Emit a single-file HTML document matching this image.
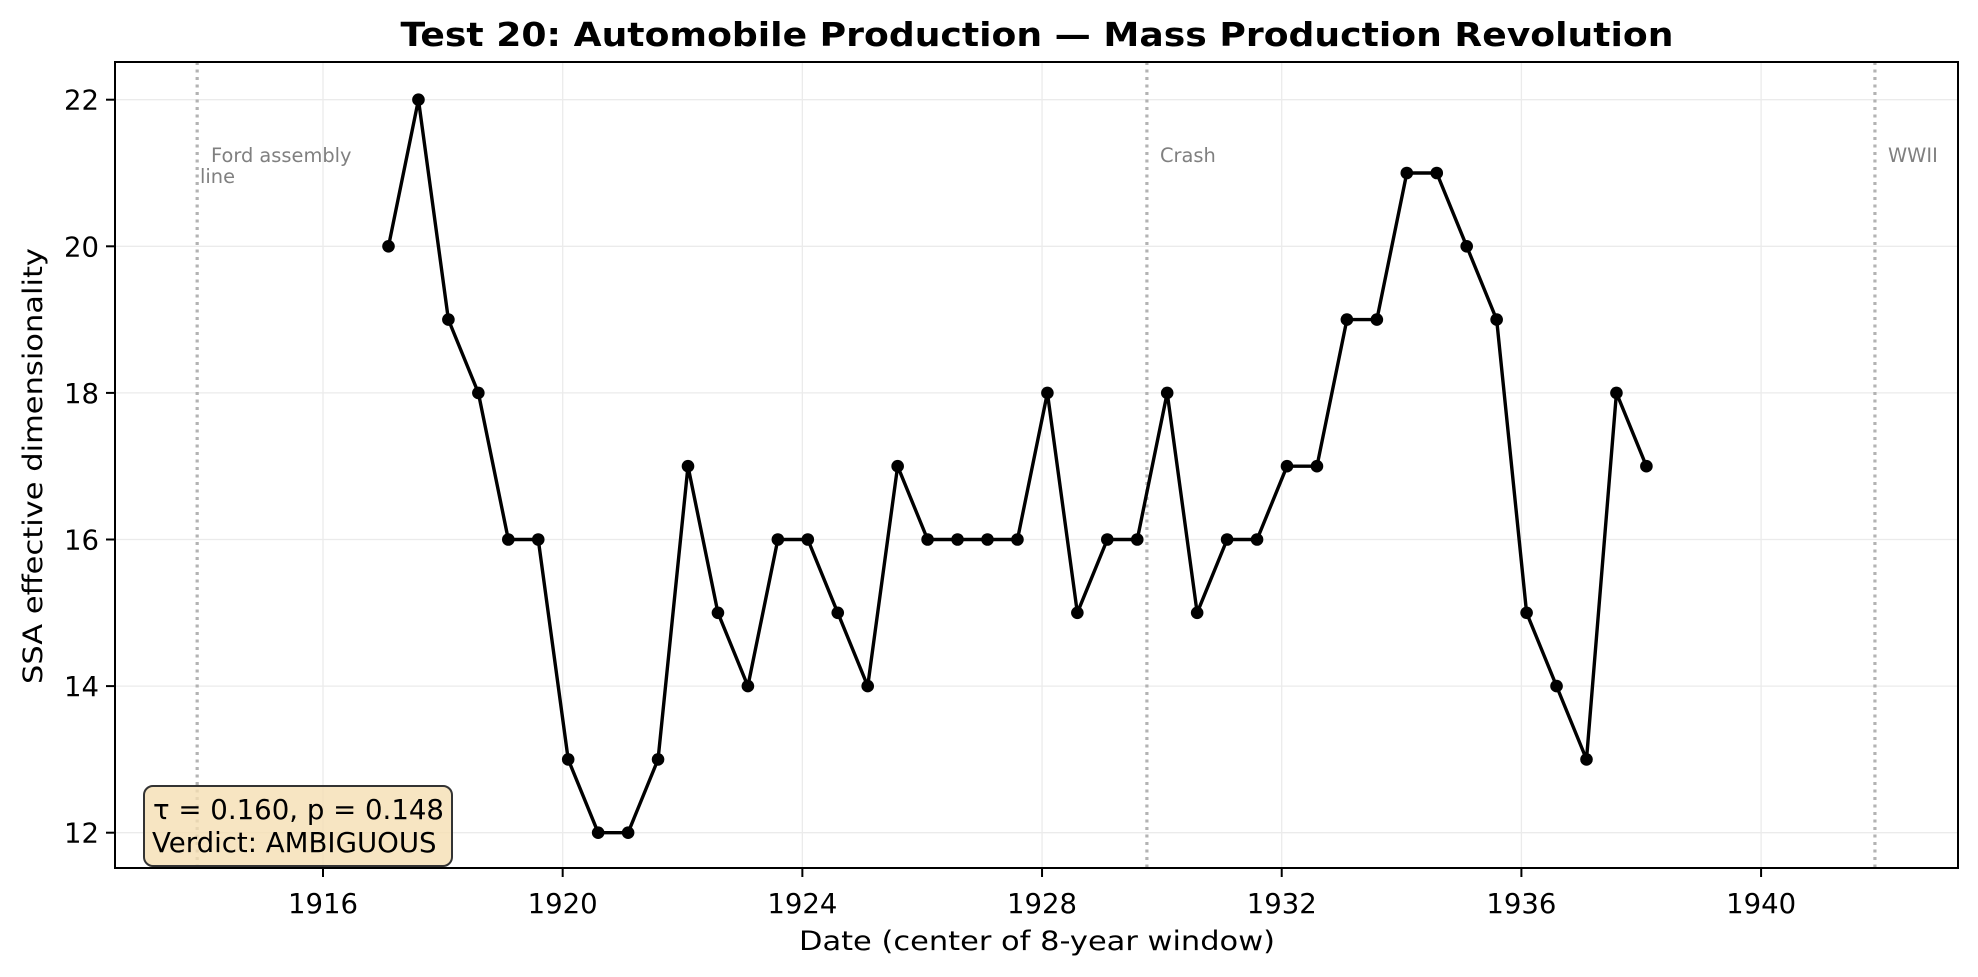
<!DOCTYPE html>
<html><head><meta charset="utf-8"><style>
html,body{margin:0;padding:0;background:#fff}
svg{display:block;font-family:"DejaVu Sans","Liberation Sans",sans-serif}
</style></head><body>
<svg id="c" width="1978" height="977" viewBox="0 0 1978 977" xmlns="http://www.w3.org/2000/svg">
<rect width="1978" height="977" fill="#fff"/>
<g id="grid" stroke="#ebebeb" stroke-width="1.3"></g>
<g id="vl" stroke="#b3b3b3" stroke-width="3.2" stroke-dasharray="3,4.5"></g>
<g fill="#808080" font-size="19.4">
<text x="211" y="162">Ford assembly</text>
<text x="200" y="183">line</text>
<text x="1160" y="162">Crash</text>
<text x="1888" y="162">WWII</text>
</g>
<polyline id="ln" fill="none" stroke="#000" stroke-width="3.4" stroke-linejoin="round"/>
<g id="pts" fill="#000"></g>
<rect x="115" y="62" width="1843" height="806" fill="none" stroke="#000" stroke-width="2"/>
<g id="ticks" stroke="#000" stroke-width="2"></g>
<g id="tl" font-size="27.5" fill="#000"></g>
<text x="1037" y="46" font-size="33" font-weight="bold" text-anchor="middle" textLength="1273" lengthAdjust="spacingAndGlyphs">Test 20: Automobile Production — Mass Production Revolution</text>
<text x="1037" y="950" font-size="27" text-anchor="middle" textLength="476" lengthAdjust="spacingAndGlyphs">Date (center of 8-year window)</text>
<text transform="translate(42,466) rotate(-90)" font-size="27" text-anchor="middle" textLength="436" lengthAdjust="spacingAndGlyphs">SSA effective dimensionality</text>
<rect x="144" y="786" width="308" height="80" rx="9" fill="#f5deb3" fill-opacity="0.8" stroke="#333" stroke-width="2"/>
<text x="153" y="819" font-size="27.6">τ = 0.160, p = 0.148</text>
<text x="152" y="852" font-size="27.6">Verdict: AMBIGUOUS</text>
</svg>
<script>
const NS="http://www.w3.org/2000/svg";
const X=y=>323+(y-1916)*59.92, Y=v=>99.7+(22-v)*73.3;
function el(p,t,a,txt){const e=document.createElementNS(NS,t);for(const k in a)e.setAttribute(k,a[k]);if(txt!=null)e.textContent=txt;document.getElementById(p).appendChild(e);return e;}
for(let yr=1916;yr<=1940;yr+=4){const x=X(yr);el("grid","line",{x1:x,x2:x,y1:62,y2:868});el("ticks","line",{x1:x,x2:x,y1:868,y2:877});el("tl","text",{x:x,y:913,"text-anchor":"middle"},yr);}
for(let v=12;v<=22;v+=2){const y=Y(v);el("grid","line",{x1:115,x2:1958,y1:y,y2:y});el("ticks","line",{x1:106,x2:115,y1:y,y2:y});el("tl","text",{x:99,y:y+10,"text-anchor":"end"},v);}
[1913.9,1929.75,1941.9].forEach(yr=>{const x=X(yr);el("vl","line",{x1:x,x2:x,y1:62,y2:868});});
const d=[20,22,19,18,16,16,13,12,12,13,17,15,14,16,16,15,14,17,16,16,16,16,18,15,16,16,18,15,16,16,17,17,19,19,21,21,20,19,15,14,13,18,17];
const pts=d.map((v,i)=>[388.5+i*29.95,Y(v)]);
document.getElementById("ln").setAttribute("points",pts.map(p=>p.join(",")).join(" "));
pts.forEach(p=>el("pts","circle",{cx:p[0],cy:p[1],r:6.3}));
</script>
</body></html>
